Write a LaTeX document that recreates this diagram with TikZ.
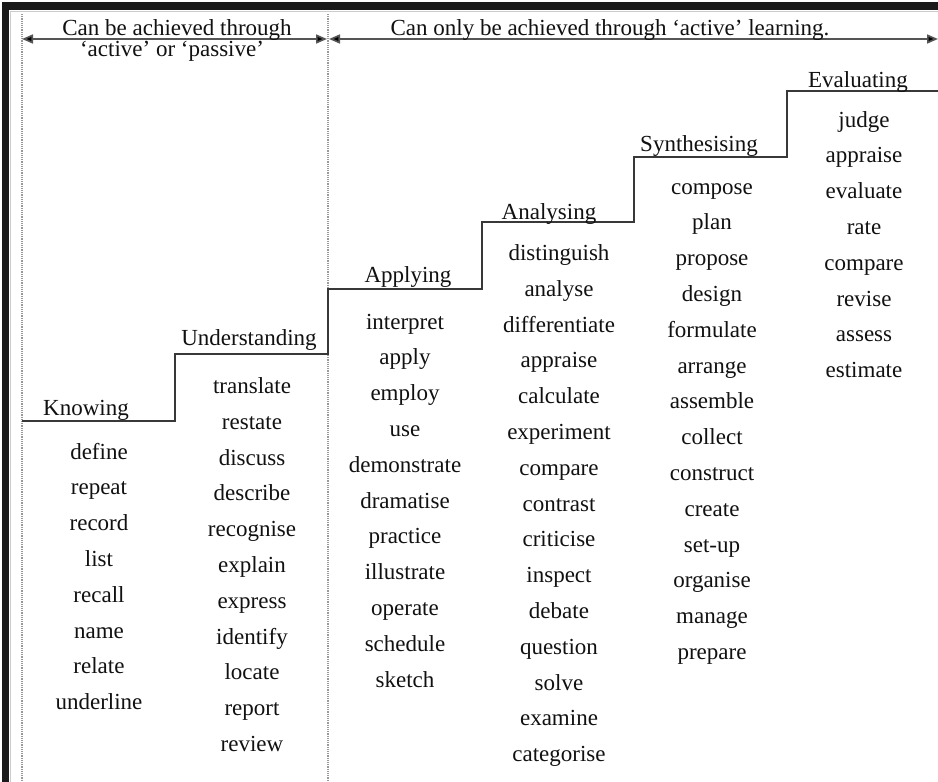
\documentclass[tikz,border=0pt]{standalone}
\usepackage{fontspec}
\setmainfont{Liberation Serif}
\usetikzlibrary{arrows.meta}
\definecolor{txt}{HTML}{111111}
\definecolor{stepc}{HTML}{383838}
\definecolor{arrc}{HTML}{555555}
\definecolor{dotc}{HTML}{999999}
\definecolor{framec}{HTML}{1A1A1A}
\begin{document}
\begin{tikzpicture}[x=1pt,y=-1pt,
  word/.style={anchor=base, inner sep=0pt, text=txt, font=\fontsize{23}{27}\selectfont},
  lvl/.style={word},
  hdr/.style={word},
  stepline/.style={draw=stepc, line width=1.9pt, line join=miter},
  span/.style={draw=arrc, line width=1.7pt, {Triangle[length=11pt,width=9pt,fill=black]}-{Triangle[length=11pt,width=9pt,fill=black]}},
  sep/.style={draw=dotc, line width=1.2pt, densely dotted}]
\useasboundingbox (0,0) rectangle (938,782);
\fill[white] (0,0) rectangle (938,782);
% frame
\fill[framec] (2,2) rectangle (938,10);
\fill[framec] (2,2) rectangle (9,782);
\draw[black!20, line width=0.8pt] (10.5,782) -- (10.5,11.5) -- (938,11.5);
% separators
\coordinate (s1t) at (22,14); \coordinate (s1b) at (22,782);
\coordinate (s2t) at (328,14); \coordinate (s2b) at (328,782);
\draw[sep] (s1t) -- (s1b);
\draw[sep] (s2t) -- (s2b);
% spans
\coordinate (a1l) at (22,39); \coordinate (a1r) at (327,39);
\coordinate (a2l) at (329,39); \coordinate (a2r) at (938,39);
\draw[span] (a1l) -- (a1r);
\draw[span] (a2l) -- (a2r);
\node[hdr] (h1) at (177,35) {Can be achieved through};
\node[hdr] (h1b) at (172,56) {‘active’ or ‘passive’};
\node[hdr] (h2) at (610,35) {Can only be achieved through ‘active’ learning.};
% staircase
\draw[stepline] (22,421) -- (175,421) -- (175,354) -- (328,354) -- (328,289) -- (482,289)
  -- (482,222) -- (634,222) -- (634,157) -- (787,157) -- (787,91) -- (938,91);
% level labels
\node[lvl] (L1) at (86,415) {Knowing};
\node[lvl] (L2) at (249,345) {Understanding};
\node[lvl] (L3) at (408,282) {Applying};
\node[lvl] (L4) at (549,219) {Analysing};
\node[lvl] (L5) at (699,151) {Synthesising};
\node[lvl] (L6) at (858,87) {Evaluating};
% word lists
\foreach \w [count=\i from 0] in {define,repeat,record,list,recall,name,relate,underline}
  \node[word] (k\i) at ({99},{459+\i*35.8}) {\w};
\foreach \w [count=\i from 0] in {translate,restate,discuss,describe,recognise,explain,express,identify,locate,report,review}
  \node[word] (u\i) at ({252},{393.4+\i*35.8}) {\w};
\foreach \w [count=\i from 0] in {interpret,apply,employ,use,demonstrate,dramatise,practice,illustrate,operate,schedule,sketch}
  \node[word] (p\i) at ({405},{329+\i*35.8}) {\w};
\foreach \w [count=\i from 0] in {distinguish,analyse,differentiate,appraise,calculate,experiment,compare,contrast,criticise,inspect,debate,question,solve,examine,categorise}
  \node[word] (n\i) at ({559},{260.4+\i*35.8}) {\w};
\foreach \w [count=\i from 0] in {compose,plan,propose,design,formulate,arrange,assemble,collect,construct,create,set-up,organise,manage,prepare}
  \node[word] (s\i) at ({712},{194+\i*35.8}) {\w};
\foreach \w [count=\i from 0] in {judge,appraise,evaluate,rate,compare,revise,assess,estimate}
  \node[word] (e\i) at ({864},{127+\i*35.8}) {\w};
\end{tikzpicture}
\end{document}
